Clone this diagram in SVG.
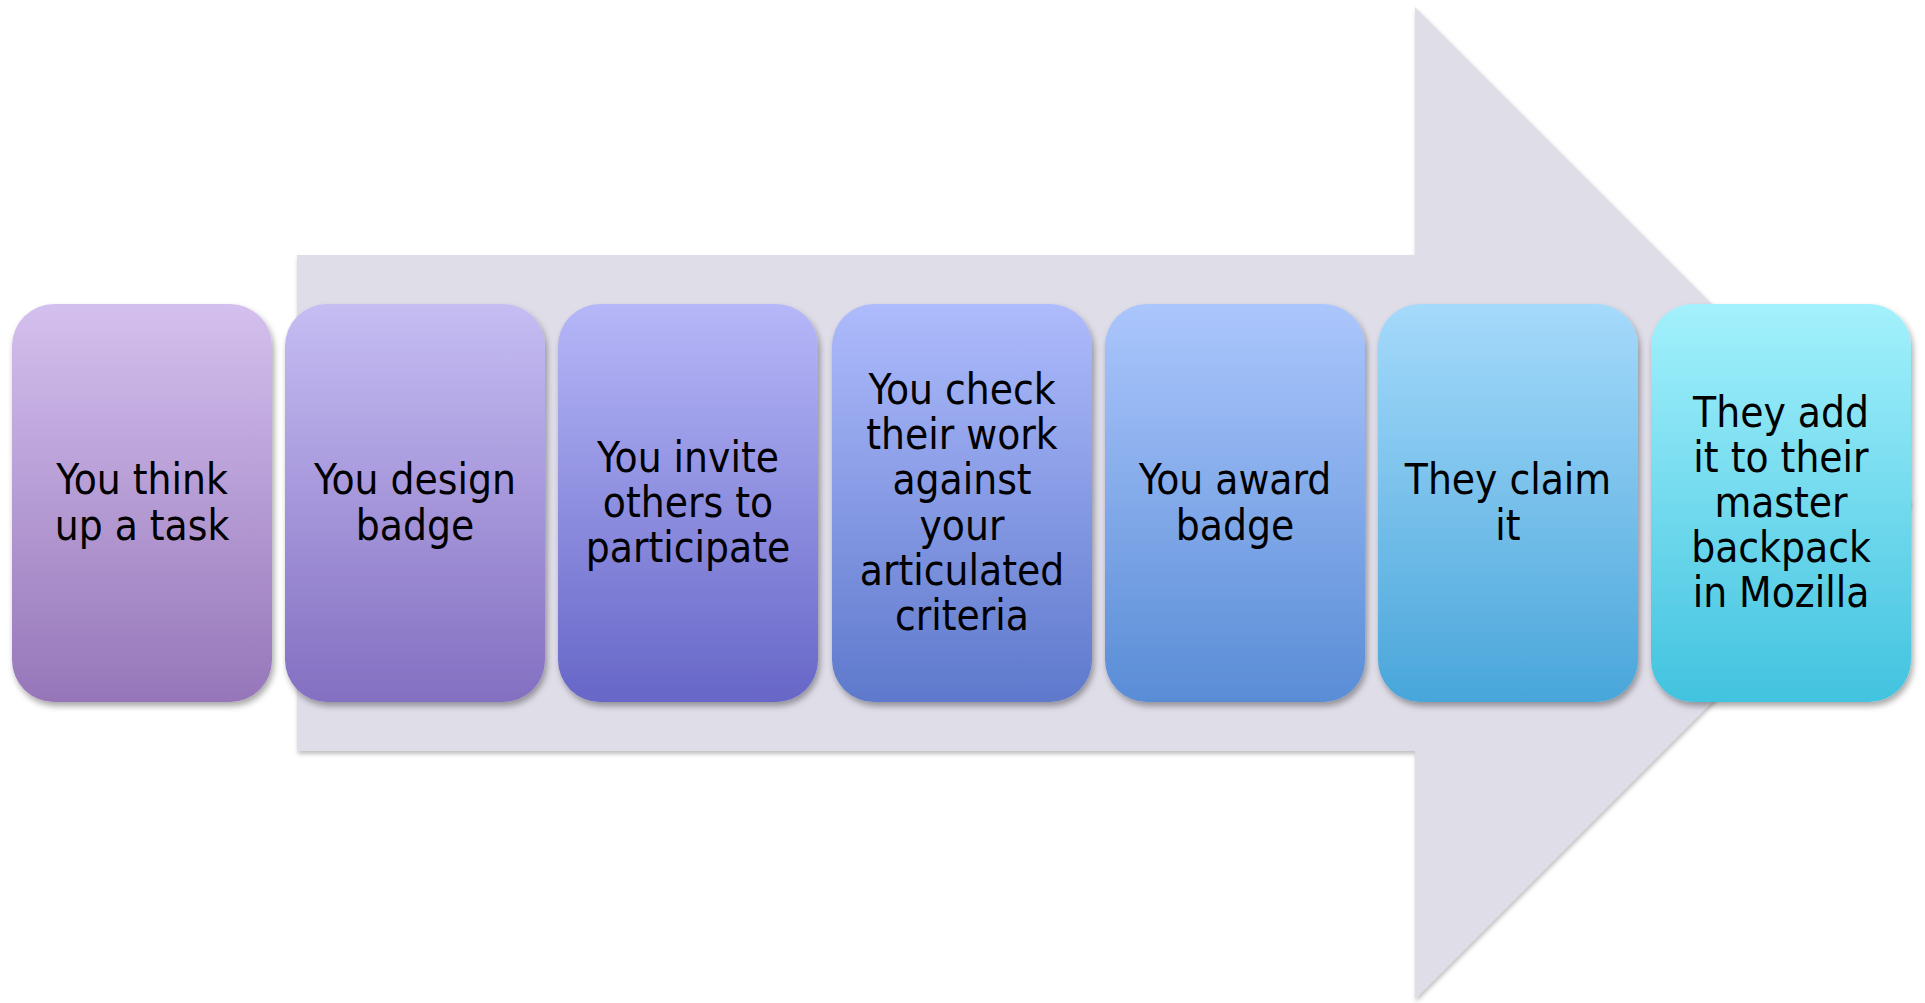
<svg xmlns="http://www.w3.org/2000/svg" width="1925" height="1003" viewBox="0 0 1925 1003">
<style>
.lbl{font-family:"DejaVu Sans Condensed","DejaVu Sans","Liberation Sans",sans-serif;font-stretch:condensed;font-size:42px;fill:#000;text-anchor:middle}
</style>
<defs>
<filter id="sh" x="-10%" y="-10%" width="130%" height="130%">
<feDropShadow dx="2" dy="4" stdDeviation="3" flood-color="#000" flood-opacity="0.35"/>
</filter>
<filter id="ash" x="-5%" y="-5%" width="110%" height="110%">
<feDropShadow dx="1" dy="3" stdDeviation="2" flood-color="#000" flood-opacity="0.25"/>
</filter>
<linearGradient id="g1" x1="0" y1="0" x2="0" y2="1"><stop offset="0" stop-color="#D4C0EE"/><stop offset="1" stop-color="#9676B9"/></linearGradient>
<linearGradient id="g2" x1="0" y1="0" x2="0" y2="1"><stop offset="0" stop-color="#C6BDF3"/><stop offset="1" stop-color="#846FC1"/></linearGradient>
<linearGradient id="g3" x1="0" y1="0" x2="0" y2="1"><stop offset="0" stop-color="#B6B7F8"/><stop offset="1" stop-color="#6766C8"/></linearGradient>
<linearGradient id="g4" x1="0" y1="0" x2="0" y2="1"><stop offset="0" stop-color="#AEBBFC"/><stop offset="1" stop-color="#5E79CC"/></linearGradient>
<linearGradient id="g5" x1="0" y1="0" x2="0" y2="1"><stop offset="0" stop-color="#ABC6FC"/><stop offset="1" stop-color="#598DD6"/></linearGradient>
<linearGradient id="g6" x1="0" y1="0" x2="0" y2="1"><stop offset="0" stop-color="#A5DAFB"/><stop offset="1" stop-color="#49A6DA"/></linearGradient>
<linearGradient id="g7" x1="0" y1="0" x2="0" y2="1"><stop offset="0" stop-color="#A3F1FC"/><stop offset="1" stop-color="#42C3DF"/></linearGradient>
</defs>
<rect width="1925" height="1003" fill="#FFFFFF"/>
<g id="arrow">
<path d="M297,255 L1415,255 L1415,7 L1911,503 L1415,999 L1415,751 L297,751 Z" fill="#DFDDE8" filter="url(#ash)"/>
</g>
<g id="connectors"></g>
<g id="n1">
<rect x="12" y="304" width="260" height="398" rx="42" ry="42" fill="url(#g1)" filter="url(#sh)"/>
<text class="lbl" x="142"><tspan x="142" y="494.4">You think</tspan><tspan x="142" y="539.6">up a task</tspan></text>
</g>
<g id="n2">
<rect x="285" y="304" width="260" height="398" rx="42" ry="42" fill="url(#g2)" filter="url(#sh)"/>
<text class="lbl"><tspan x="415" y="494.4">You design</tspan><tspan x="415" y="539.6">badge</tspan></text>
</g>
<g id="n3">
<rect x="558" y="304" width="260" height="398" rx="42" ry="42" fill="url(#g3)" filter="url(#sh)"/>
<text class="lbl"><tspan x="688" y="471.8">You invite</tspan><tspan x="688" y="517">others to</tspan><tspan x="688" y="562.2">participate</tspan></text>
</g>
<g id="n4">
<rect x="832" y="304" width="260" height="398" rx="42" ry="42" fill="url(#g4)" filter="url(#sh)"/>
<text class="lbl"><tspan x="962" y="404">You check</tspan><tspan x="962" y="449.2">their work</tspan><tspan x="962" y="494.4">against</tspan><tspan x="962" y="539.6">your</tspan><tspan x="962" y="584.8">articulated</tspan><tspan x="962" y="630">criteria</tspan></text>
</g>
<g id="n5">
<rect x="1105" y="304" width="260" height="398" rx="42" ry="42" fill="url(#g5)" filter="url(#sh)"/>
<text class="lbl"><tspan x="1235" y="494.4">You award</tspan><tspan x="1235" y="539.6">badge</tspan></text>
</g>
<g id="n6">
<rect x="1378" y="304" width="260" height="398" rx="42" ry="42" fill="url(#g6)" filter="url(#sh)"/>
<text class="lbl"><tspan x="1508" y="494.4">They claim</tspan><tspan x="1508" y="539.6">it</tspan></text>
</g>
<g id="n7">
<rect x="1651" y="304" width="260" height="398" rx="42" ry="42" fill="url(#g7)" filter="url(#sh)"/>
<text class="lbl"><tspan x="1781" y="426.6">They add</tspan><tspan x="1781" y="471.8">it to their</tspan><tspan x="1781" y="517">master</tspan><tspan x="1781" y="562.2">backpack</tspan><tspan x="1781" y="607.4">in Mozilla</tspan></text>
</g>
</svg>
